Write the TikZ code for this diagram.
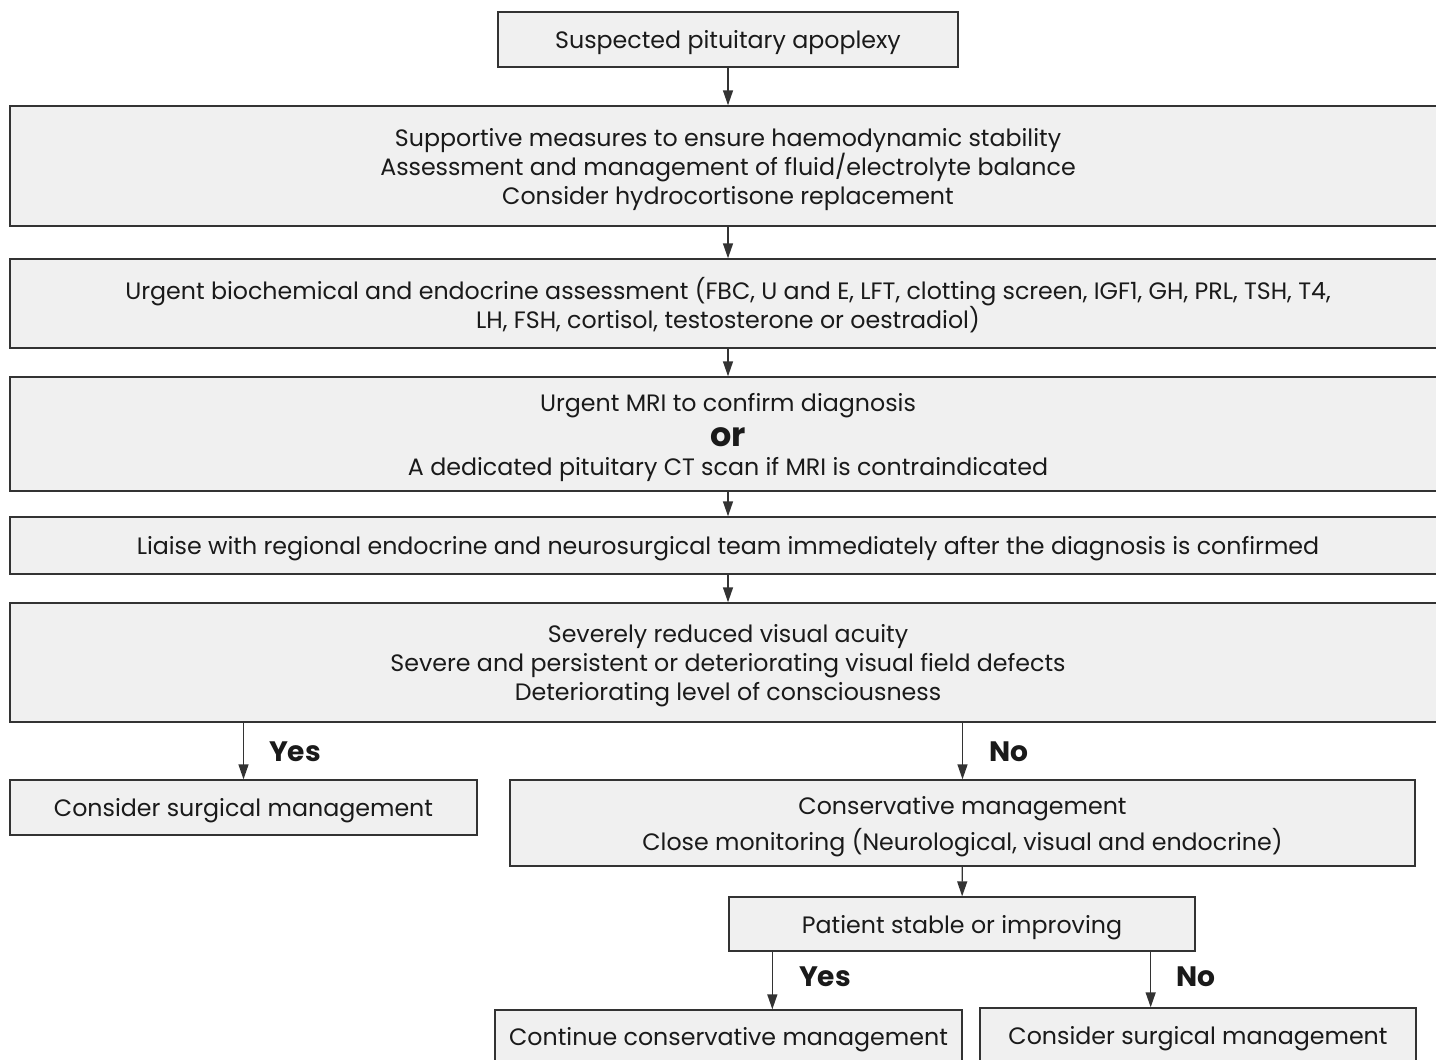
\documentclass[tikz,border=0pt]{standalone}
\usepackage{fontspec}
\setmainfont{Poppins}[Ligatures=NoCommon]
\usetikzlibrary{arrows.meta}
\definecolor{boxfill}{HTML}{F0F0F0}
\definecolor{boxline}{HTML}{333333}
\definecolor{txt}{HTML}{1A1A1A}
\newcommand{\topstrut}{\rule[-2.75pt]{0pt}{17pt}}
\newcommand{\botstrut}{\rule[-2.75pt]{0pt}{0pt}}
\tikzset{
  box/.style={draw=boxline, fill=boxfill, line width=0.8pt, inner sep=0pt,
    align=center, text=txt, font=\fontsize{13.5}{16.5}\selectfont},
  arr/.style={-{Triangle[length=0.3cm,width=0.2cm]}, line width=0.8pt, draw=boxline},
  lbl/.style={text=txt, font=\fontsize{16}{18}\selectfont\bfseries}
}
\begin{document}
\begin{tikzpicture}[x=0.02cm,y=-0.02cm]
  \useasboundingbox (0,0) rectangle (1436,1060);

  % main column
  \node[box, minimum width=9.2cm, minimum height=1.1cm] (suspect) at (728,39.5)
    {\topstrut Suspected pituitary apoplexy};
  \node[box, minimum width=28.72cm, minimum height=2.4cm] (support) at (728,166)
    {\topstrut Supportive measures to ensure haemodynamic stability\\
     Assessment and management of fluid/electrolyte balance\\
     Consider hydrocortisone replacement\botstrut};
  \node[box, minimum width=28.72cm, minimum height=1.78cm] (biochem) at (728,303.5)
    {\topstrut Urgent biochemical and endocrine assessment (FBC, U and E, LFT, clotting screen, IGF1, GH, PRL, TSH, T4,\\
     LH, FSH, cortisol, testosterone or oestradiol)\botstrut};
  \node[box, minimum width=28.72cm, minimum height=2.28cm] (imaging) at (728,434)
    {\topstrut Urgent MRI to confirm diagnosis\\[3.8pt]
     {\fontsize{19}{19}\selectfont\bfseries or}\\[0pt]
     A dedicated pituitary CT scan if MRI is contraindicated\botstrut};
  \node[box, minimum width=28.72cm, minimum height=1.14cm] (liaise) at (728,545.5)
    {\topstrut Liaise with regional endocrine and neurosurgical team immediately after the diagnosis is confirmed};
  \node[box, minimum width=28.72cm, minimum height=2.38cm] (visual) at (728,662.5)
    {\topstrut Severely reduced visual acuity\\
     Severe and persistent or deteriorating visual field defects\\
     Deteriorating level of consciousness\botstrut};

  % branches
  \node[box, minimum width=9.34cm, minimum height=1.1cm] (surgery) at (243.5,807.5)
    {\topstrut Consider surgical management};
  \node[box, minimum width=18.1cm, minimum height=1.72cm] (conserv) at (962.5,823)
    {\topstrut Conservative management\\[4pt]
     Close monitoring (Neurological, visual and endocrine)\botstrut};
  \node[box, minimum width=9.32cm, minimum height=1.08cm] (stable) at (962,924)
    {\topstrut Patient stable or improving};
  \node[box, minimum width=9.34cm, minimum height=1.04cm] (continue) at (728.5,1036)
    {\topstrut Continue conservative management};
  \node[box, minimum width=8.72cm, minimum height=1.08cm] (surgery2) at (1198,1035)
    {\topstrut Consider surgical management};

  % labels
  \node[lbl] (yes1) at (295,752) {Yes};
  \node[lbl] (no1) at (1009,752) {No};
  \node[lbl] (yes2) at (825,977) {Yes};
  \node[lbl] (no2) at (1196,977) {No};

  % arrows
  \draw[arr] (suspect) -- (support);
  \draw[arr] (support) -- (biochem);
  \draw[arr] (biochem) -- (imaging);
  \draw[arr] (imaging) -- (liaise);
  \draw[arr] (liaise) -- (visual);
  \draw[arr] (visual.south -| surgery) -- (surgery);
  \draw[arr] (visual.south -| conserv) -- (conserv);
  \draw[arr] (conserv) -- (stable);
  \draw[arr] ([xshift=0.88cm]stable.south west) -- ([xshift=0.88cm]stable.south west |- continue.north);
  \draw[arr] ([xshift=-0.9cm]stable.south east) -- ([xshift=-0.9cm]stable.south east |- surgery2.north);
\end{tikzpicture}
\end{document}
